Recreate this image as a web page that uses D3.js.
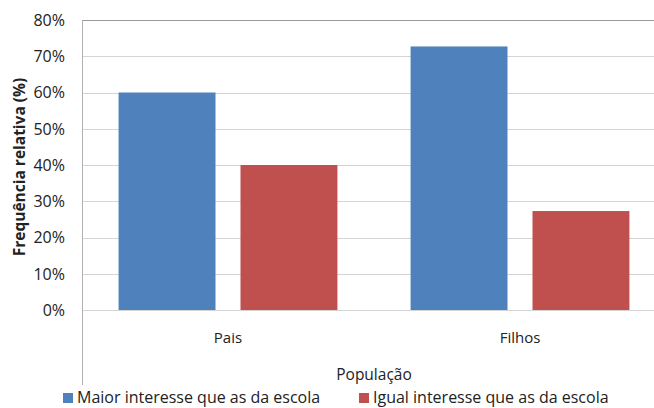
<!DOCTYPE html>
<html><head><meta charset="utf-8">
<script src="https://cdn.jsdelivr.net/npm/d3@7"></script>
<style>body{margin:0;background:#fff}svg{display:block}text{font-family:"Open Sans",sans-serif;fill:#222}</style>
</head><body><svg id="c" width="654" height="408"></svg>
<script>
const categories = ["Pais", "Filhos"];
const seriesNames = ["Maior interesse que as da escola", "Igual interesse que as da escola"];
const maiorValues = [0.60, 0.727];
const igualValues = [0.40, 0.273];
const yTicks = [0, 0.1, 0.2, 0.3, 0.4, 0.5, 0.6, 0.7, 0.8];
const colors = ["#4F81BD", "#C0504D"];
const yTitle = "Frequência relativa (%)";
const xTitle = "População";

(function () {
const svg = d3.select("#c");
const pl = 82, pt = 20, pb = 310, pr = 666;
const y = d3.scaleLinear().domain([0, 0.8]).range([pb, pt]);
const x0 = d3.scaleBand().domain(categories).range([pl, pr]);
const x1 = d3.scaleBand().domain(seriesNames).range([0, x0.bandwidth()]).paddingInner(0.205).paddingOuter(0.3);

// gridlines
svg.append("g").selectAll("line").data(yTicks).join("line")
  .attr("x1", pl).attr("x2", 654)
  .attr("y1", d => Math.round(y(d)) + 0.5).attr("y2", d => Math.round(y(d)) + 0.5)
  .attr("stroke", d => d === 0.8 ? "#9a9a9a" : "#d4d4d4").attr("stroke-width", 1);

// left axis line
svg.append("line").attr("x1", pl + 0.5).attr("x2", pl + 0.5).attr("y1", pt).attr("y2", 385)
  .attr("stroke", "#b0b0b0");

// y tick labels
svg.append("g").selectAll("text").data(yTicks).join("text")
  .attr("x", 65).attr("y", d => y(d)).attr("dy", "0.36em").attr("text-anchor", "end")
  .attr("font-size", 16).text(d3.format(".0%"));

// bars
const data = categories.map((c, i) => ({cat: c, vals: [maiorValues[i], igualValues[i]]}));
const g = svg.append("g").selectAll("g").data(data).join("g")
  .attr("transform", d => `translate(${x0(d.cat)},0)`);
g.selectAll("rect").data(d => d.vals.map((v, j) => ({name: seriesNames[j], v, j}))).join("rect")
  .attr("x", d => x1(d.name)).attr("width", x1.bandwidth())
  .attr("y", d => y(d.v)).attr("height", d => y(0) - y(d.v))
  .attr("fill", d => colors[d.j]);

// category labels
svg.append("g").selectAll("text").data(categories).join("text")
  .attr("x", d => x0(d) + x0.bandwidth() / 2).attr("y", 343).attr("text-anchor", "middle")
  .attr("font-size", 15).text(d => d);

// x title
svg.append("text").attr("x", (pl + pr) / 2).attr("y", 380).attr("text-anchor", "middle")
  .attr("font-size", 15.5).text(xTitle);

// y title
svg.append("text").attr("transform", "translate(25,167) rotate(-90)").attr("text-anchor", "middle")
  .attr("font-size", 15.5).attr("font-weight", "bold").text(yTitle);

// legend
const legX = [63, 359];
const lg = svg.append("g").selectAll("g").data(seriesNames).join("g")
  .attr("transform", (d, i) => `translate(${legX[i]},0)`);
lg.append("rect").attr("x", 0).attr("y", 393).attr("width", 10).attr("height", 10)
  .attr("fill", (d, i) => colors[i]);
lg.append("text").attr("x", 14).attr("y", 403).attr("font-size", 16).text(d => d);
})();
</script></body></html>
